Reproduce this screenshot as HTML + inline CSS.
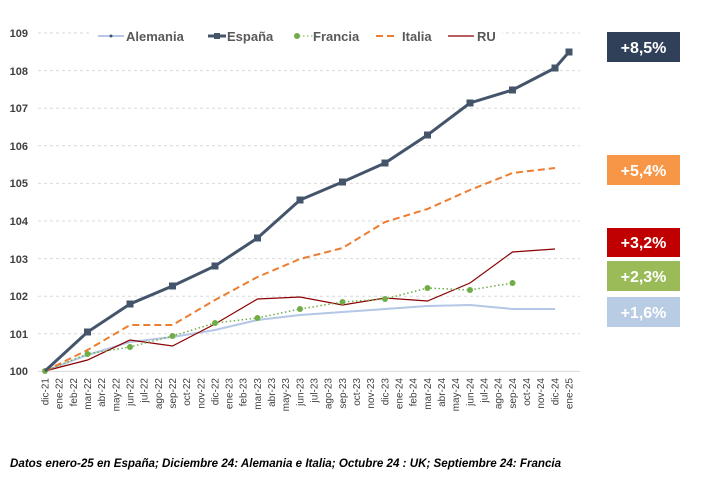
<!DOCTYPE html><html><head><style>body{margin:0;background:#fff;width:707px;height:474px;overflow:hidden;font-family:"Liberation Sans",sans-serif}</style></head><body>
<svg width="707" height="474" xmlns="http://www.w3.org/2000/svg" font-family="Liberation Sans, sans-serif">
<g stroke="#d9d9d9" stroke-dasharray="3,3" stroke-width="1">
<line x1="38" x2="580" y1="33" y2="33"/><line x1="38" x2="580" y1="70.6" y2="70.6"/><line x1="38" x2="580" y1="108.2" y2="108.2"/><line x1="38" x2="580" y1="145.8" y2="145.8"/><line x1="38" x2="580" y1="183.4" y2="183.4"/><line x1="38" x2="580" y1="221" y2="221"/><line x1="38" x2="580" y1="258.6" y2="258.6"/><line x1="38" x2="580" y1="296.2" y2="296.2"/><line x1="38" x2="580" y1="333.8" y2="333.8"/></g>
<line x1="38" x2="580" y1="371.4" y2="371.4" stroke="#d9d9d9"/>
<g font-size="11" font-weight="bold" fill="#404040" text-anchor="end">
<text x="28" y="37">109</text><text x="28" y="75">108</text><text x="28" y="112">107</text><text x="28" y="150">106</text><text x="28" y="187">105</text><text x="28" y="225">104</text><text x="28" y="263">103</text><text x="28" y="300">102</text><text x="28" y="338">101</text><text x="28" y="375">100</text></g>
<g id="xl" font-size="10" fill="#404040" text-anchor="end"></g>
<polyline fill="none" stroke="#b4c7e7" stroke-width="2" points="45,371 87.5,355 130,342 172.5,337 215,330 257.5,320 300,315 342.5,312 385,309 427.5,306 470,305 512.5,309 555,309"/>
<polyline fill="none" stroke="#8b0000" stroke-width="1.2" points="45,371 87.5,360 130,340 172.5,346 215,324 257.5,299 300,297 342.5,305 385,298 427.5,301 470,283 512.5,252 555,249"/>
<polyline fill="none" stroke="#70ad47" stroke-width="1.5" stroke-dasharray="1.5,2.5" points="45,371 87.5,354 130,347 172.5,336 215,323 257.5,318 300,309 342.5,302 385,299 427.5,288 470,290 512.5,283"/>
<g fill="#70ad47"><circle cx="45" cy="371" r="3"/><circle cx="87.5" cy="354" r="3"/><circle cx="130" cy="347" r="3"/><circle cx="172.5" cy="336" r="3"/><circle cx="215" cy="323" r="3"/><circle cx="257.5" cy="318" r="3"/><circle cx="300" cy="309" r="3"/><circle cx="342.5" cy="302" r="3"/><circle cx="385" cy="299" r="3"/><circle cx="427.5" cy="288" r="3"/><circle cx="470" cy="290" r="3"/><circle cx="512.5" cy="283" r="3"/></g>
<polyline fill="none" stroke="#ed7d31" stroke-width="2" stroke-dasharray="7,4" points="45,371 87.5,350 130,325 172.5,325 215,300 257.5,277 300,259 342.5,248 385,222 427.5,209 470,190 512.5,173 555,168"/>
<polyline fill="none" stroke="#44546a" stroke-width="3" points="45,371 87.5,332 130,304 172.5,286 215,266 257.5,238 300,200 342.5,182 385,163 427.5,135 470,103 512.5,90 555,68 569,52"/>
<g fill="#44546a"><rect x="84" y="328.5" width="7" height="7"/><rect x="126.5" y="300.5" width="7" height="7"/><rect x="169" y="282.5" width="7" height="7"/><rect x="211.5" y="262.5" width="7" height="7"/><rect x="254" y="234.5" width="7" height="7"/><rect x="296.5" y="196.5" width="7" height="7"/><rect x="339" y="178.5" width="7" height="7"/><rect x="381.5" y="159.5" width="7" height="7"/><rect x="424" y="131.5" width="7" height="7"/><rect x="466.5" y="99.5" width="7" height="7"/><rect x="509" y="86.5" width="7" height="7"/><rect x="551.5" y="64.5" width="7" height="7"/><rect x="565.5" y="48.5" width="7" height="7"/></g>
<rect x="92" y="26" width="410" height="20" fill="#fff"/>
<g font-size="13" font-weight="bold" fill="#595959">
<line x1="98" x2="124" y1="36" y2="36" stroke="#b4c7e7" stroke-width="2"/><circle cx="111" cy="36" r="1.5" fill="#44546a"/><text x="126" y="41">Alemania</text>
<line x1="208" x2="226" y1="36" y2="36" stroke="#44546a" stroke-width="3"/><rect x="214" y="33" width="6" height="6" fill="#44546a"/><text x="227" y="41">España</text>
<line x1="295" x2="318" y1="36" y2="36" stroke="#70ad47" stroke-dasharray="1.5,2.5"/><circle cx="297" cy="36" r="3" fill="#70ad47"/><text x="313" y="41">Francia</text>
<line x1="376" x2="398" y1="36" y2="36" stroke="#ed7d31" stroke-width="2" stroke-dasharray="7,4"/><text x="402" y="41">Italia</text>
<line x1="448" x2="474" y1="36" y2="36" stroke="#8b0000" stroke-width="1.2"/><text x="477" y="41">RU</text></g>
<g font-size="16" font-weight="bold" fill="#fff" text-anchor="middle">
<rect x="607" y="32" width="73" height="30" fill="#2f4058"/><text x="643.5" y="53">+8,5%</text>
<rect x="607" y="155" width="73" height="30" fill="#f79646"/><text x="643.5" y="176">+5,4%</text>
<rect x="607" y="228" width="73" height="29" fill="#c00000"/><text x="643.5" y="248">+3,2%</text>
<rect x="607" y="261" width="73" height="30" fill="#9bbb59"/><text x="643.5" y="282">+2,3%</text>
<rect x="607" y="297" width="73" height="30" fill="#b8cce4"/><text x="643.5" y="318">+1,6%</text></g>
<text x="10" y="467" font-size="11.6" font-weight="bold" font-style="italic" fill="#000">Datos enero-25 en España; Diciembre 24: Alemania e Italia; Octubre 24 : UK;  Septiembre 24: Francia</text>
</svg>
<script>
var m=["dic-21","ene-22","feb-22","mar-22","abr-22","may-22","jun-22","jul-22","ago-22","sep-22","oct-22","nov-22","dic-22","ene-23","feb-23","mar-23","abr-23","may-23","jun-23","jul-23","ago-23","sep-23","oct-23","nov-23","dic-23","ene-24","feb-24","mar-24","abr-24","may-24","jun-24","jul-24","ago-24","sep-24","oct-24","nov-24","dic-24","ene-25"];
var g=document.getElementById("xl"),s="";
m.forEach(function(t,i){var x=45+i*14.16+3.5;s+='<text transform="translate('+x+',378) rotate(-90)">'+t+'</text>';});
g.innerHTML=s;
</script>
</body></html>
